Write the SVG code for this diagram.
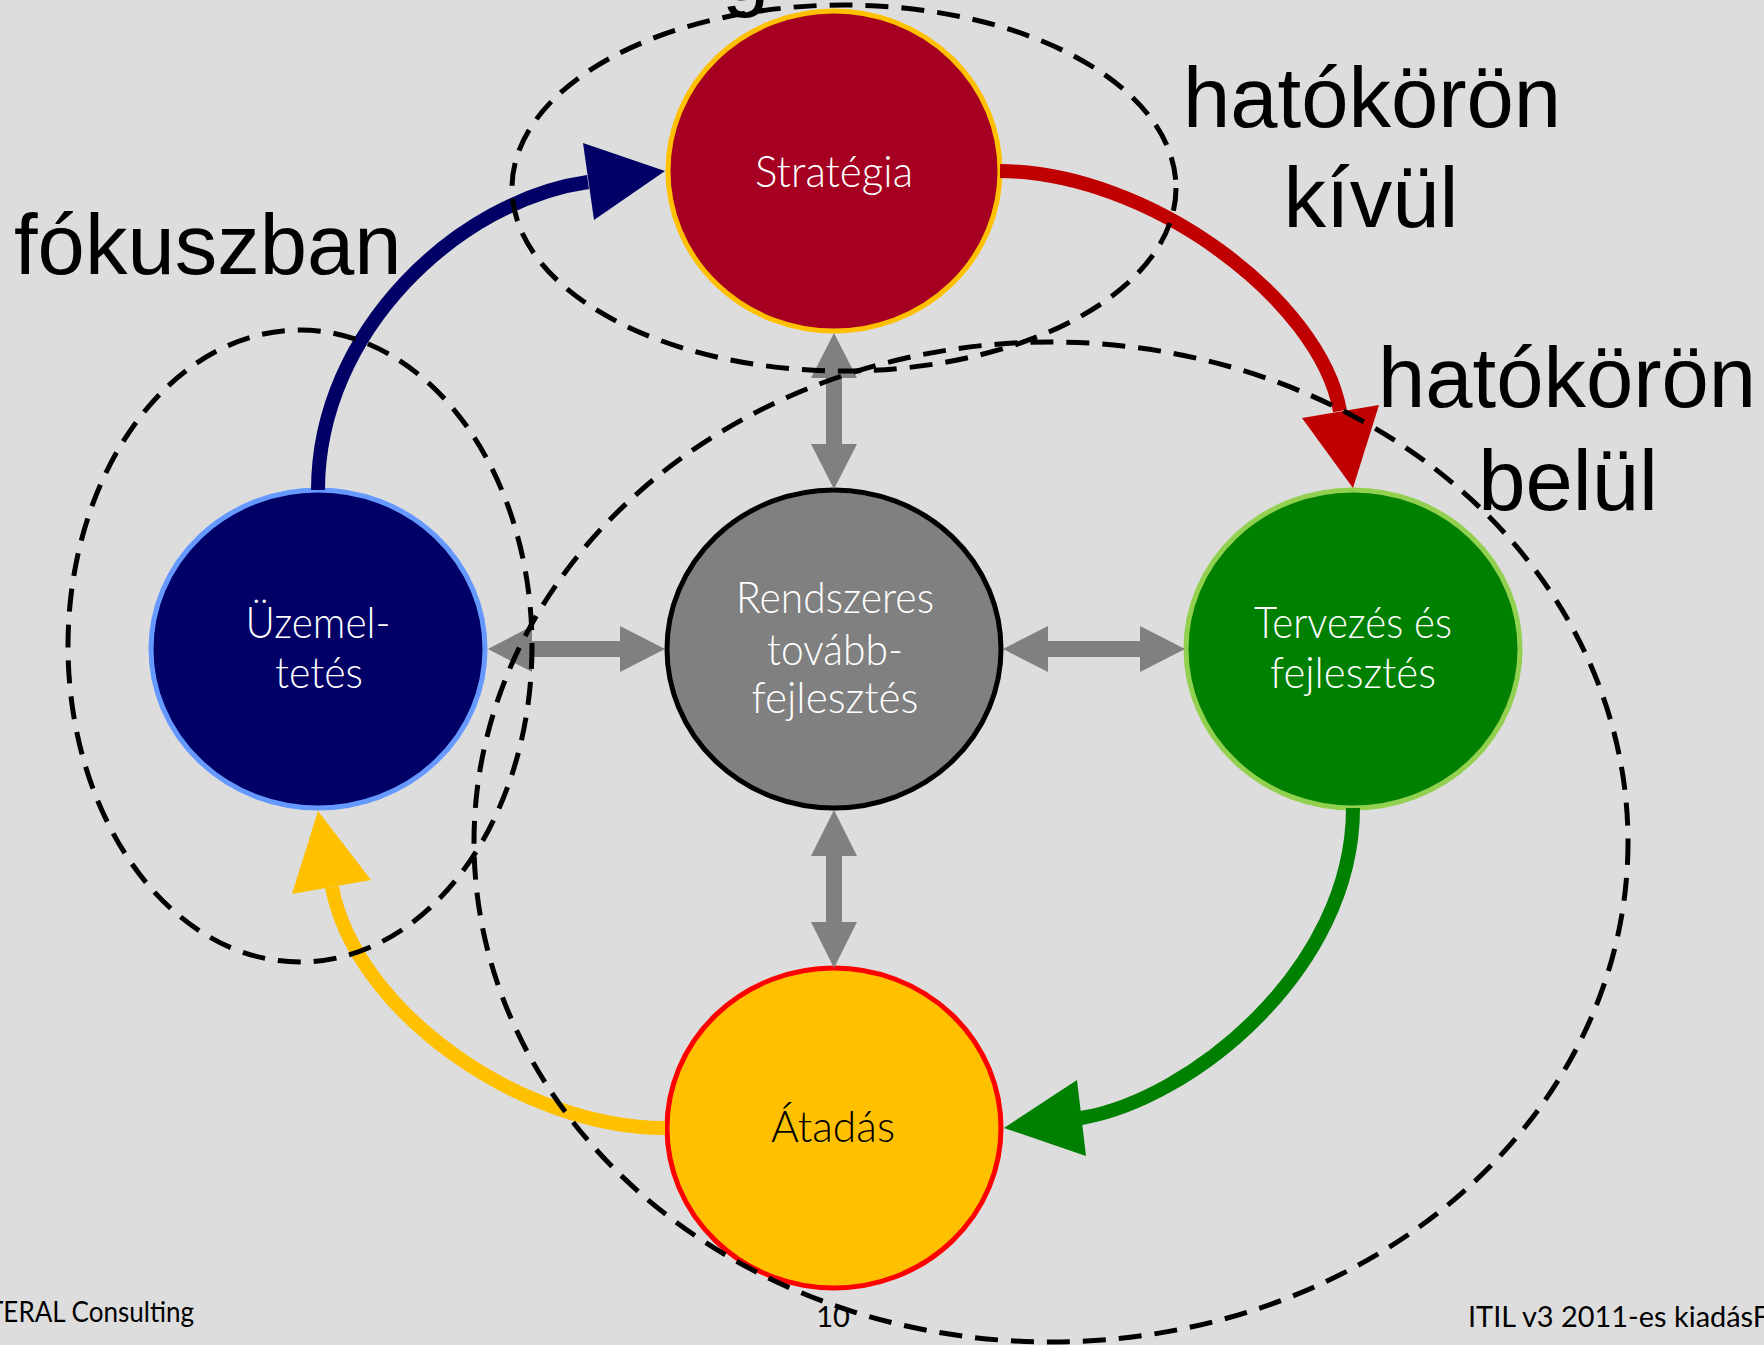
<svg xmlns="http://www.w3.org/2000/svg" width="1764" height="1345" viewBox="0 0 1764 1345">
  <defs>
    <style>
      .node-outline { stroke-width: 5; }
      .lbl { font-family: Lato, "Open Sans", "Noto Sans", sans-serif; font-weight: 300; font-size: 44px; text-anchor: middle; }
      .lbl-w { fill: #FFFFFF; }
      .lbl-k { fill: #000000; }
      .flow { fill: none; stroke-width: 14; stroke-linecap: butt; }
      .dbl { fill: #808080; }
      .scope { fill: none; stroke: #000000; stroke-width: 5; stroke-dasharray: 23 13; }
      .big { font-family: "Liberation Sans", Arial, sans-serif; font-size: 85px; fill: #000000; }
      .foot { font-family: Lato, "Open Sans", "Noto Sans", sans-serif; font-size: 29px; fill: #000000; }
    </style>
  </defs>

  <!-- page background -->
  <rect x="0" y="0" width="1764" height="1345" fill="#DDDDDD"/>

  <!-- descender of a heading line above the page edge -->
  <text class="big" x="722" y="0">g</text>

  <!-- lifecycle stages -->
  <g id="strategia">
    <ellipse class="node-outline" cx="834" cy="171" rx="166" ry="160" fill="#A50021" stroke="#FFC000"/>
    <text class="lbl lbl-w" x="834" y="187" textLength="158" lengthAdjust="spacingAndGlyphs">Stratégia</text>
  </g>
  <g id="rendszeres">
    <ellipse class="node-outline" cx="834" cy="649" rx="167" ry="159" fill="#808080" stroke="#000000"/>
    <text class="lbl lbl-w" x="835" y="613" textLength="198" lengthAdjust="spacingAndGlyphs">Rendszeres</text>
    <text class="lbl lbl-w" x="835" y="665" textLength="136" lengthAdjust="spacingAndGlyphs">tovább-</text>
    <text class="lbl lbl-w" x="835" y="713" textLength="167" lengthAdjust="spacingAndGlyphs">fejlesztés</text>
  </g>
  <g id="uzemeltetes">
    <ellipse class="node-outline" cx="318" cy="649" rx="167" ry="159" fill="#000066" stroke="#6699FF"/>
    <text class="lbl lbl-w" x="318" y="638" textLength="145" lengthAdjust="spacingAndGlyphs">Üzemel-</text>
    <text class="lbl lbl-w" x="319" y="688" textLength="88" lengthAdjust="spacingAndGlyphs">tetés</text>
  </g>
  <g id="tervezes">
    <ellipse class="node-outline" cx="1353" cy="649" rx="167" ry="159" fill="#008000" stroke="#92D050"/>
    <text class="lbl lbl-w" x="1353" y="638" textLength="198" lengthAdjust="spacingAndGlyphs">Tervezés és</text>
    <text class="lbl lbl-w" x="1353" y="688" textLength="166" lengthAdjust="spacingAndGlyphs">fejlesztés</text>
  </g>
  <g id="atadas">
    <ellipse class="node-outline" cx="834" cy="1128" rx="167" ry="160" fill="#FFC000" stroke="#FF0000"/>
    <text class="lbl lbl-k" x="833" y="1142" textLength="124" lengthAdjust="spacingAndGlyphs">Átadás</text>
  </g>

  <!-- connectors -->
  <g id="connectors">
    <!-- two-way links with the improvement hub -->
    <polygon class="dbl" points="834,333 857,378 842,378 842,444 857,444 834,489 811,444 826,444 826,378 811,378"/>
    <polygon class="dbl" points="834,810 857,856 842,856 842,922 857,922 834,968 811,922 826,922 826,856 811,856"/>
    <polygon class="dbl" points="488,649 532,626 532,641 620,641 620,626 665,649 620,672 620,657 532,657 532,672"/>
    <polygon class="dbl" points="1003,649 1048,626 1048,641 1140,641 1140,626 1185,649 1140,672 1140,657 1048,657 1048,672"/>

    <!-- cycle: operation -> strategy -->
    <path class="flow" stroke="#000066" d="M318,490 C318,330 460,200 588,182"/>
    <polygon fill="#000066" points="583,143 665,171 594,220"/>
    <!-- strategy -> design -->
    <path class="flow" stroke="#C00000" d="M1000,171 C1150,172 1320,300 1340,411"/>
    <polygon fill="#C00000" points="1302,418 1379,405 1353,488"/>
    <!-- design -> transition -->
    <path class="flow" stroke="#008000" d="M1353,808 C1353,970 1190,1100 1081,1118"/>
    <polygon fill="#008000" points="1077,1080 1004,1128 1086,1156"/>
    <!-- transition -> operation -->
    <path class="flow" stroke="#FFC000" d="M665,1128 C520,1128 355,1010 332,887"/>
    <polygon fill="#FFC000" points="292,894 318,811 371,880"/>
  </g>

  <!-- scope boundaries -->
  <g id="scopes">
    <ellipse class="scope" cx="844" cy="188" rx="332" ry="183"/>
    <ellipse class="scope" cx="300" cy="646" rx="232" ry="316"/>
    <ellipse class="scope" cx="1051" cy="842" rx="577" ry="500"/>
  </g>

  <!-- scope captions -->
  <g id="captions">
    <text class="big" x="14" y="274">fókuszban</text>
    <text class="big" x="1372" y="127" text-anchor="middle">hatókörön</text>
    <text class="big" x="1371" y="227" text-anchor="middle">kívül</text>
    <text class="big" x="1567" y="407" text-anchor="middle">hatókörön</text>
    <text class="big" x="1568" y="510" text-anchor="middle">belül</text>
  </g>

  <!-- slide footer -->
  <g id="footer">
    <text class="foot" x="-12" y="1322" textLength="206" lengthAdjust="spacingAndGlyphs">TERAL Consulting</text>
    <text class="foot" x="833" y="1327" text-anchor="middle">10</text>
    <text class="foot" x="1468" y="1327" textLength="301" lengthAdjust="spacingAndGlyphs">ITIL v3 2011-es kiadásF</text>
  </g>
</svg>
